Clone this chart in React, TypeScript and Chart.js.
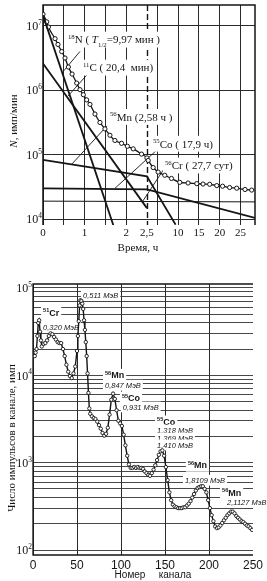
import React, { useEffect, useRef } from 'react';
import { Chart, registerables } from 'chart.js';

Chart.register(...registerables);

const SERIF = '"Liberation Serif", "DejaVu Serif", serif';
const SANS = '"Liberation Sans", Arial, sans-serif';
const INK = '#151515';

// ================= Top chart: decay curves =================
// time axis is broken at 2.5 h (compressed scale to the right)
const BREAK = 2.5;
const COMPRESS = 0.1;
const toAxis = (t: number) => (t <= BREAK ? t : BREAK + (t - BREAK) * COMPRESS);

const timeTicks = [0, 0.5, 1, 1.5, 2, 2.5, 5, 10, 15, 20, 25];
const timeTickLabels = ['0', '', '1', '', '2', '2,5', '', '10', '15', '20', '25'];
const activityTicks = [1e4, 1e5, 1e6, 1e7];
const activityTickExp = ['4', '5', '6', '7'];

const totalTime = [0, 0.09, 0.13, 0.29, 0.36, 0.45, 0.53, 0.61, 0.7, 0.81, 0.89, 0.97, 1.05, 1.13, 1.25, 1.37, 1.49, 1.61, 1.73, 1.89, 2.03, 2.17, 2.37, 2.5, 2.81, 4.0, 5.2, 6.8, 8.4, 10.4, 12.4, 14.5, 16.0, 17.6, 19.3, 20.7, 22.4, 24.1, 26.1, 27.7];
const totalActivity = [15100000, 11500000, 9550000, 6310000, 5130000, 3980000, 3160000, 2290000, 1780000, 1290000, 1020000, 851000, 708000, 603000, 427000, 316000, 251000, 200000, 166000, 150000, 135000, 123000, 102000, 89000, 81300, 63100, 53700, 47900, 42700, 37200, 36300, 35500, 35000, 34700, 33100, 32400, 30900, 30200, 28800, 28200];

const n18Time = [0, 1.73];
const n18Activity = [14500000, 6800];
const c11Time = [0, 2.5];
const c11Activity = [2600000, 14800];
const mn56Time = [0, 2.5, 9.4];
const mn56Activity = [83000, 46000, 8200];
const co55Time = [0, 2.5, 28.5];
const co55Activity = [30000, 29000, 10400];
const cr51Time = [0, 28.5];
const cr51Activity = [19000, 18500];

// ================= Bottom chart: gamma spectrum =================
const channels = [2, 3, 4, 5, 6, 7, 8, 9, 10, 12, 14, 16, 18, 20, 22, 24, 26, 28, 30, 32, 34, 36, 38, 40, 42, 44, 46, 48, 50, 51, 52, 53, 54, 55, 56, 57, 58, 59, 60, 61, 62, 63, 64, 65, 67, 69, 71, 73, 75, 77, 79, 81, 83, 85, 87, 89, 91, 93, 95, 97, 99, 101, 103, 105, 107, 109, 111, 113, 115, 117, 119, 121, 123, 125, 127, 129, 131, 133, 135, 137, 139, 141, 143, 145, 147, 149, 151, 153, 155, 157, 159, 161, 163, 165, 167, 169, 171, 173, 175, 177, 179, 181, 183, 185, 187, 189, 191, 193, 195, 197, 199, 201, 203, 205, 207, 209, 211, 213, 215, 217, 219, 221, 223, 225, 227, 229, 231, 233, 235, 237, 239, 241, 243, 245, 247, 249];
const counts = [16600, 18200, 20000, 28200, 39800, 42700, 31600, 25100, 21400, 22900, 23400, 25100, 28200, 30200, 29500, 27500, 25700, 24000, 23400, 23400, 20000, 16600, 13200, 11000, 9800, 9300, 10500, 12600, 19000, 28200, 41700, 63100, 72400, 70800, 66100, 57500, 42700, 33100, 24000, 16600, 10500, 6300, 4170, 3630, 3390, 3240, 3160, 2950, 2690, 2450, 2190, 2040, 2140, 2510, 3550, 5250, 6170, 5370, 3980, 3020, 2820, 2630, 2090, 1580, 1200, 955, 871, 871, 891, 871, 891, 871, 871, 851, 794, 759, 724, 708, 759, 832, 933, 1070, 1230, 1350, 1380, 1200, 891, 631, 457, 372, 331, 316, 309, 302, 302, 302, 309, 309, 324, 339, 363, 398, 437, 479, 513, 525, 537, 537, 501, 457, 372, 302, 251, 214, 186, 178, 182, 191, 204, 219, 234, 251, 263, 275, 275, 263, 245, 234, 224, 214, 209, 200, 191, 186, 178, 170];
const channelTicks = [0, 50, 100, 150, 200, 250];
const countTicksMajor = [100, 1000, 10000, 100000];
const countTickExp = ['2', '3', '4', '5'];

// ---------- annotations (anchored in data coordinates) ----------
type Seg = { t: string; k?: 'sup' | 'sub'; it?: boolean; b?: boolean };

const topLabels: { t: number; v: number; segs: Seg[] }[] = [
  { t: 0.6, v: 6.1e6, segs: [{ t: '18', k: 'sup' }, { t: 'N ( ' }, { t: 'T', it: true }, { t: '1/2', k: 'sub' }, { t: '=9,97 мин )' }] },
  { t: 0.96, v: 2.24e6, segs: [{ t: '11', k: 'sup' }, { t: 'C ( 20,4  мин)' }] },
  { t: 1.61, v: 3.85e5, segs: [{ t: '56', k: 'sup' }, { t: 'Mn (2,58 ч )' }] },
  { t: 3.94, v: 1.48e5, segs: [{ t: '55', k: 'sup' }, { t: 'Co ( 17,9 ч)' }] },
  { t: 6.83, v: 6.8e4, segs: [{ t: '56', k: 'sup' }, { t: 'Cr ( 27,7 сут)' }] },
];
const topLeaders = [
  { t0: 0.89, v0: 4.0e6, t1: 0.5, v1: 2.0e6 },
  { t0: 1.08, v0: 1.8e6, t1: 0.6, v1: 8.1e5 },
  { t0: 1.54, v0: 2.8e5, t1: 0.7, v1: 7.2e4 },
  { t0: 5.14, v0: 1.22e5, t1: 1.73, v1: 3.0e4 },
  { t0: 6.83, v0: 6.3e4, t1: 2.4, v1: 1.9e4 },
];

const botLabels: { ch: number; v: number; segs: Seg[]; el?: boolean }[] = [
  { ch: 56.8, v: 83000, segs: [{ t: '0,511 МэВ', it: true }] },
  { ch: 11.4, v: 51700, el: true, segs: [{ t: '51', k: 'sup', b: true }, { t: 'Cr', b: true }] },
  { ch: 11.4, v: 35600, segs: [{ t: '0,320 МэВ', it: true }] },
  { ch: 81.8, v: 10000, el: true, segs: [{ t: '56', k: 'sup', b: true }, { t: 'Mn', b: true }] },
  { ch: 81.8, v: 7700, segs: [{ t: '0,847 МэВ', it: true }] },
  { ch: 101, v: 5480, el: true, segs: [{ t: '55', k: 'sup', b: true }, { t: 'Co', b: true }] },
  { ch: 102, v: 4340, segs: [{ t: '0,931 МэВ', it: true }] },
  { ch: 141, v: 2920, el: true, segs: [{ t: '55', k: 'sup', b: true }, { t: 'Co', b: true }] },
  { ch: 141, v: 2360, segs: [{ t: '1,318 МэВ', it: true }] },
  { ch: 141, v: 1910, segs: [{ t: '1,369 МэВ', it: true }] },
  { ch: 141, v: 1590, segs: [{ t: '1,410 МэВ', it: true }] },
  { ch: 176, v: 935, el: true, segs: [{ t: '56', k: 'sup', b: true }, { t: 'Mn', b: true }] },
  { ch: 172.7, v: 630, segs: [{ t: '1,8109 МэВ', it: true }] },
  { ch: 214.8, v: 457, el: true, segs: [{ t: '56', k: 'sup', b: true }, { t: 'Mn', b: true }] },
  { ch: 220.5, v: 355, segs: [{ t: '2,1127 МэВ', it: true }] },
];

// ---------- rich text helper ----------
function segFont(sg: Seg, size: number, fam: string) {
  const sz = sg.k ? size * 0.62 : size;
  return `${sg.it ? 'italic ' : ''}${sg.b ? 'bold ' : ''}${sz}px ${fam}`;
}
function drawRich(ctx: CanvasRenderingContext2D, segs: Seg[], x: number, y: number, size: number, fam: string, align: 'left' | 'center' | 'right' = 'left', bg = false) {
  ctx.save();
  ctx.textBaseline = 'alphabetic';
  ctx.textAlign = 'left';
  let w = 0;
  const ws = segs.map((sg) => {
    ctx.font = segFont(sg, size, fam);
    const m = ctx.measureText(sg.t).width;
    w += m;
    return m;
  });
  let sx = align === 'left' ? x : align === 'center' ? x - w / 2 : x - w;
  if (bg) {
    ctx.fillStyle = '#fff';
    ctx.fillRect(sx - 2, y - size * 0.72, w + 4, size * 1.44);
  }
  ctx.fillStyle = INK;
  const base = y + size * 0.35;
  segs.forEach((sg, i) => {
    ctx.font = segFont(sg, size, fam);
    const dy = sg.k === 'sup' ? -size * 0.42 : sg.k === 'sub' ? size * 0.28 : 0;
    ctx.fillText(sg.t, sx, base + dy);
    sx += ws[i];
  });
  ctx.restore();
}
function drawRotated(ctx: CanvasRenderingContext2D, segs: Seg[], cx: number, cy: number, size: number, fam: string) {
  ctx.save();
  ctx.translate(cx, cy);
  ctx.rotate(-Math.PI / 2);
  drawRich(ctx, segs, 0, 0, size, fam, 'center');
  ctx.restore();
}

// ---------- plugins ----------
const topDecor = {
  id: 'topDecor',
  beforeDatasetsDraw(chart: any) {
    const { ctx, chartArea: a, scales } = chart;
    const x = scales.x, y = scales.y;
    ctx.save();
    ctx.strokeStyle = INK;
    // dashed break line
    const xd = Math.round(x.getPixelForValue(toAxis(BREAK))) + 0.5;
    ctx.setLineDash([6, 3]);
    ctx.lineWidth = 1.4;
    ctx.beginPath();
    ctx.moveTo(xd, a.top);
    ctx.lineTo(xd, a.bottom);
    ctx.stroke();
    ctx.setLineDash([]);
    // frame
    ctx.lineWidth = 1.5;
    ctx.beginPath();
    ctx.moveTo(a.left, a.bottom);
    ctx.lineTo(a.left, a.top);
    ctx.lineTo(a.right, a.top);
    ctx.lineTo(a.right, a.bottom);
    ctx.stroke();
    // leader lines
    ctx.lineWidth = 0.9;
    for (const L of topLeaders) {
      ctx.beginPath();
      ctx.moveTo(x.getPixelForValue(toAxis(L.t0)), y.getPixelForValue(L.v0));
      ctx.lineTo(x.getPixelForValue(toAxis(L.t1)), y.getPixelForValue(L.v1));
      ctx.stroke();
    }
    ctx.restore();
    for (const lab of topLabels) {
      drawRich(ctx, lab.segs, x.getPixelForValue(toAxis(lab.t)), y.getPixelForValue(lab.v), 11, SERIF, 'left', true);
    }
  },
  afterDraw(chart: any) {
    const { ctx, chartArea: a, scales } = chart;
    const y = scales.y;
    activityTicks.forEach((v, i) => {
      drawRich(ctx, [{ t: '10' }, { t: activityTickExp[i], k: 'sup' }], a.left - 1, y.getPixelForValue(v), 12, SERIF, 'right');
    });
    drawRich(ctx, [{ t: 'Время, ч' }], 138, 247, 11, SERIF, 'center');
    drawRotated(ctx, [{ t: 'N', it: true }, { t: ', имп/мин' }], 13, 121, 11, SERIF);
  },
};

const botDecor = {
  id: 'botDecor',
  beforeDatasetsDraw(chart: any) {
    const { ctx, chartArea: a, scales } = chart;
    const x = scales.x, y = scales.y;
    ctx.save();
    ctx.strokeStyle = INK;
    ctx.lineWidth = 1.3;
    ctx.beginPath();
    ctx.moveTo(a.right, a.top);
    ctx.lineTo(a.left, a.top);
    ctx.lineTo(a.left, a.bottom);
    ctx.lineTo(a.right, a.bottom);
    ctx.stroke();
    ctx.restore();
    for (const lab of botLabels) {
      drawRich(ctx, lab.segs, x.getPixelForValue(lab.ch), y.getPixelForValue(lab.v), lab.el ? 9 : 7.5, SANS, 'left', true);
    }
  },
  afterDraw(chart: any) {
    const { ctx, chartArea: a, scales } = chart;
    const y = scales.y;
    countTicksMajor.forEach((v, i) => {
      drawRich(ctx, [{ t: '10' }, { t: countTickExp[i], k: 'sup' }], a.left - 1, y.getPixelForValue(v), 12, SERIF, 'right');
    });
    drawRich(ctx, [{ t: 'Номер' }], 130, 319.5, 10, SANS, 'center');
    drawRich(ctx, [{ t: 'канала' }], 175, 319.5, 10, SANS, 'center');
    drawRotated(ctx, [{ t: 'Число импульсов в канале, имп' }], 11.5, 183, 11, SERIF);
  },
};

function topConfig(): any {
  const mk = (ts: number[], vs: number[], extra: any = {}) => ({
    data: ts.map((t, i) => ({ x: toAxis(t), y: vs[i] })),
    borderColor: INK,
    borderWidth: 1.8,
    pointRadius: 0,
    tension: 0,
    ...extra,
  });
  return {
    type: 'line',
    data: {
      datasets: [
        mk(n18Time, n18Activity),
        mk(c11Time, c11Activity),
        mk(mn56Time, mn56Activity),
        mk(co55Time, co55Activity),
        mk(cr51Time, cr51Activity, { borderWidth: 1 }),
        mk(totalTime, totalActivity, {
          borderWidth: 1.3,
          pointRadius: 2.1,
          pointBackgroundColor: '#fff',
          pointBorderColor: INK,
          pointBorderWidth: 1,
          cubicInterpolationMode: 'monotone',
        }),
      ],
    },
    options: {
      responsive: false,
      animation: false,
      devicePixelRatio: 1,
      layout: { padding: { left: 0, right: 12, top: 3, bottom: 0 } },
      plugins: { legend: { display: false }, tooltip: { enabled: false } },
      scales: {
        x: {
          type: 'linear',
          min: 0,
          max: 5.1,
          afterBuildTicks: (s: any) => {
            s.ticks = timeTicks.map((t) => ({ value: toAxis(t) }));
          },
          afterFit: (s: any) => {
            s.height = 30;
          },
          ticks: {
            autoSkip: false,
            maxRotation: 0,
            padding: 2,
            color: INK,
            font: { family: SERIF, size: 11 },
            callback: (_v: any, i: number) => timeTickLabels[i],
          },
          grid: {
            drawTicks: false,
            lineWidth: 1,
            color: (c: any) => (c.tick && Math.abs(c.tick.value - BREAK) < 1e-6 ? 'rgba(0,0,0,0)' : '#2a2a2a'),
          },
          border: { display: false },
        },
        y: {
          type: 'logarithmic',
          min: 8100,
          max: 21000000,
          afterBuildTicks: (s: any) => {
            s.ticks = activityTicks.map((v) => ({ value: v }));
          },
          afterFit: (s: any) => {
            s.width = 43;
          },
          ticks: { display: false },
          grid: { drawTicks: false, lineWidth: 1, color: '#2a2a2a' },
          border: { display: false },
        },
      },
    },
    plugins: [topDecor],
  };
}

function bottomConfig(): any {
  const gridVals: number[] = [];
  for (let e = 2; e <= 4; e++) for (let k = 1; k <= 9; k++) gridVals.push(k * Math.pow(10, e));
  gridVals.push(100000);
  return {
    type: 'line',
    data: {
      datasets: [
        {
          data: channels.map((c, i) => ({ x: c, y: counts[i] })),
          borderColor: INK,
          borderWidth: 1.4,
          pointRadius: 1.7,
          pointBorderWidth: 0.9,
          pointBackgroundColor: '#fff',
          pointBorderColor: INK,
          tension: 0,
        },
      ],
    },
    options: {
      responsive: false,
      animation: false,
      devicePixelRatio: 1,
      layout: { padding: { left: 0, right: 14, top: 29, bottom: 0 } },
      plugins: { legend: { display: false }, tooltip: { enabled: false } },
      scales: {
        x: {
          type: 'linear',
          min: 0,
          max: 250,
          afterBuildTicks: (s: any) => {
            s.ticks = channelTicks.map((v) => ({ value: v }));
          },
          afterFit: (s: any) => {
            s.height = 26;
          },
          ticks: {
            autoSkip: false,
            maxRotation: 0,
            padding: 3,
            color: INK,
            font: { family: SANS, size: 12 },
            callback: (v: any) => String(v),
          },
          grid: {
            drawTicks: false,
            lineWidth: 1,
            color: (c: any) => (c.tick && c.tick.value >= 250 ? 'rgba(0,0,0,0)' : '#2a2a2a'),
          },
          border: { display: false },
        },
        y: {
          type: 'logarithmic',
          min: 87.7,
          max: 111000,
          afterBuildTicks: (s: any) => {
            s.ticks = gridVals.map((v) => ({ value: v }));
          },
          afterFit: (s: any) => {
            s.width = 33;
          },
          ticks: { display: false },
          grid: { drawTicks: false, lineWidth: 0.9, color: '#333' },
          border: { display: false },
        },
      },
    },
    plugins: [botDecor],
  };
}

export default function App() {
  const topRef = useRef<HTMLCanvasElement>(null);
  const botRef = useRef<HTMLCanvasElement>(null);
  useEffect(() => {
    const top = new Chart(topRef.current as HTMLCanvasElement, topConfig());
    const bot = new Chart(botRef.current as HTMLCanvasElement, bottomConfig());
    return () => {
      top.destroy();
      bot.destroy();
    };
  }, []);
  return (
    <div style={{ position: 'absolute', left: 0, top: 0, width: 267, height: 581, background: '#fff' }}>
      <canvas ref={topRef} width={267} height={255} style={{ position: 'absolute', left: 0, top: 0, width: 267, height: 255 }} />
      <canvas ref={botRef} width={267} height={326} style={{ position: 'absolute', left: 0, top: 255, width: 267, height: 326 }} />
    </div>
  );
}
